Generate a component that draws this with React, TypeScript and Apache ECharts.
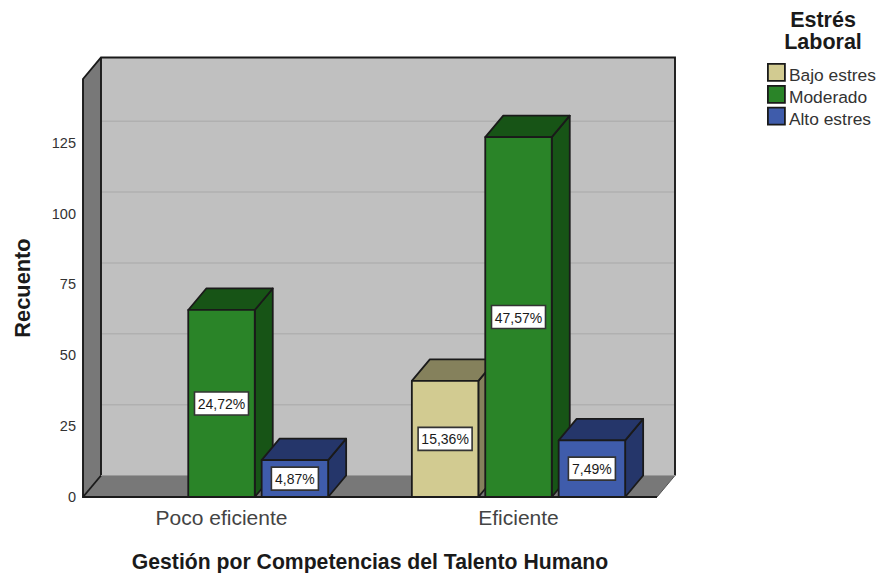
import React, { useEffect, useRef } from "react";
import * as echarts from "echarts";

// Counts per stress level and competence-management category
const categories = ["Poco eficiente", "Eficiente"];
const stressLevels = ["Bajo estres", "Moderado", "Alto estres"];
const bajoCounts = [null, 41];
const moderadoCounts = [66, 127];
const altoCounts = [13, 20];
const bajoShares = ["", "15,36%"];
const moderadoShares = ["24,72%", "47,57%"];
const altoShares = ["4,87%", "7,49%"];
const gridValues = [25, 50, 75, 100, 125];

const AXIS_MAX = 147.5;
const DEPTH_X = 18;
const DEPTH_Y = 21.5;
const BAR_W = 66.5;
const BAR_STEP = 73.4;
const WALL_INSET = 10;
const EDGE = "#1a1a1a";
const FONT = "'Liberation Sans', Arial, sans-serif";

const palette = [
  { front: "#D2CB91", top: "#85815C", side: "#85815C" },
  { front: "#2A8428", top: "#175416", side: "#175416" },
  { front: "#3F5CAB", top: "#25366A", side: "#25366A" },
];

// Back wall, left wall, floor and gridlines of the 3D frame
function renderFrame(_: any, api: any) {
  const x0 = api.coord([0, 0])[0] - api.size([1, 0])[0] / 2 + WALL_INSET;
  const x1 = api.coord([1, 0])[0] + api.size([1, 0])[0] / 2 - WALL_INSET;
  const yBase = api.coord([0, 0])[1];
  const yTop = api.coord([0, AXIS_MAX])[1];
  const wall = { fill: "#C0C0C0" };
  const shade = { fill: "#787878" };
  const children: any[] = [
    {
      type: "polygon",
      shape: {
        points: [
          [x0, yTop],
          [x0 + DEPTH_X, yTop - DEPTH_Y],
          [x0 + DEPTH_X, yBase - DEPTH_Y],
          [x0, yBase],
        ],
      },
      style: shade,
    },
    {
      type: "polygon",
      shape: {
        points: [
          [x0, yBase],
          [x0 + DEPTH_X, yBase - DEPTH_Y],
          [x1 + DEPTH_X, yBase - DEPTH_Y],
          [x1, yBase],
        ],
      },
      style: shade,
    },
    {
      type: "rect",
      shape: { x: x0 + DEPTH_X, y: yTop - DEPTH_Y, width: x1 - x0, height: yBase - yTop },
      style: wall,
    },
  ];
  gridValues.forEach((v) => {
    const y = api.coord([0, v])[1] - DEPTH_Y;
    children.push({
      type: "line",
      shape: { x1: x0 + DEPTH_X, y1: y, x2: x1 + DEPTH_X, y2: y },
      style: { stroke: "#B0B0B0", lineWidth: 1.5 },
    });
  });
  const stroke = { stroke: EDGE, lineWidth: 1.9, fill: "none" };
  children.push(
    {
      type: "polyline",
      shape: {
        points: [
          [x1, yBase],
          [x0, yBase],
          [x0, yTop],
          [x0 + DEPTH_X, yTop - DEPTH_Y],
          [x1 + DEPTH_X, yTop - DEPTH_Y],
          [x1 + DEPTH_X, yBase - DEPTH_Y],
        ],
      },
      style: stroke,
    },
    {
      type: "line",
      shape: { x1: x0 + DEPTH_X, y1: yTop - DEPTH_Y, x2: x0 + DEPTH_X, y2: yBase - DEPTH_Y },
      style: stroke,
    },
    {
      type: "line",
      shape: { x1: x0, y1: yBase, x2: x0 + DEPTH_X, y2: yBase - DEPTH_Y },
      style: stroke,
    },
    {
      type: "line",
      shape: { x1: x1 + DEPTH_X, y1: yBase - DEPTH_Y, x2: x1, y2: yBase },
      style: { stroke: "#555555", lineWidth: 1 },
    },
    {
      type: "line",
      shape: { x1: x0 + DEPTH_X, y1: yBase - DEPTH_Y, x2: x1 + DEPTH_X, y2: yBase - DEPTH_Y },
      style: { stroke: "#999999", lineWidth: 1 },
    }
  );
  return { type: "group", children };
}

// One extruded bar with its boxed percentage label
function makeBarRenderer(seriesIndex: number, shares: string[]) {
  const colours = palette[seriesIndex];
  return (_: any, api: any) => {
    const cat = api.value(0);
    const value = api.value(1);
    const centre = api.coord([cat, 0])[0] + (seriesIndex - 1) * BAR_STEP;
    const left = centre - BAR_W / 2;
    const right = centre + BAR_W / 2;
    const yBase = api.coord([cat, 0])[1];
    const yTop = api.coord([cat, value])[1];
    const edge = { stroke: EDGE, lineWidth: 1.8, lineJoin: "round" };
    const label = shares[cat];
    const boxW = label.length > 5 ? 54 : 47;
    const yMid = (yTop + yBase) / 2;
    return {
      type: "group",
      children: [
        {
          type: "polygon",
          shape: {
            points: [
              [right, yTop],
              [right + DEPTH_X, yTop - DEPTH_Y],
              [right + DEPTH_X, yBase - DEPTH_Y],
              [right, yBase],
            ],
          },
          style: { ...edge, fill: colours.side },
        },
        {
          type: "polygon",
          shape: {
            points: [
              [left, yTop],
              [left + DEPTH_X, yTop - DEPTH_Y],
              [right + DEPTH_X, yTop - DEPTH_Y],
              [right, yTop],
            ],
          },
          style: { ...edge, fill: colours.top },
        },
        {
          type: "rect",
          shape: { x: left, y: yTop, width: BAR_W, height: yBase - yTop },
          style: { ...edge, fill: colours.front },
        },
        {
          type: "rect",
          shape: { x: centre - boxW / 2, y: yMid - 11.5, width: boxW, height: 23 },
          style: { fill: "#FFFFFF", stroke: "#333333", lineWidth: 1.6 },
        },
        {
          type: "text",
          style: {
            text: label,
            x: centre,
            y: yMid + 0.5,
            align: "center",
            verticalAlign: "middle",
            fill: "#1a1a1a",
            font: `14px ${FONT}`,
          },
        },
      ],
    };
  };
}

function toPoints(counts: (number | null)[]) {
  return counts.flatMap((v, i) => (v === null ? [] : [[i, v]]));
}

export default function App() {
  const ref = useRef<HTMLDivElement>(null);

  useEffect(() => {
    const chart = echarts.init(ref.current!, undefined, { renderer: "svg" });
    const counts = [bajoCounts, moderadoCounts, altoCounts];
    const shares = [bajoShares, moderadoShares, altoShares];
    chart.setOption({
      animation: false,
      backgroundColor: "#FFFFFF",
      title: {
        text: "Estrés\nLaboral",
        left: 818,
        top: 4,
        textAlign: "center",
        textStyle: { fontFamily: FONT, fontSize: 21.5, fontWeight: "bold", color: "#1a1a1a", lineHeight: 22 },
      },
      legend: {
        orient: "vertical",
        left: 762,
        top: 58,
        itemWidth: 17,
        itemHeight: 17,
        itemGap: 1.5,
        icon: "rect",
        data: stressLevels,
        itemStyle: { borderColor: EDGE, borderWidth: 1.8 },
        formatter: "{t|{name}}",
        textStyle: {
          padding: [0, 0, 0, -1],
          rich: {
            t: { fontFamily: FONT, fontSize: 17.4, color: "#333333", padding: [5, 0, 0, 0] },
          },
        },
      },
      grid: { left: 73, top: 79, width: 594, height: 418, outerBoundsMode: "none" },
      xAxis: {
        type: "category",
        data: categories,
        axisLine: { show: false },
        axisTick: { show: false },
        axisLabel: { fontFamily: FONT, fontSize: 21, color: "#444444", margin: 10 },
        name: "Gestión por Competencias del Talento Humano",
        nameLocation: "middle",
        nameGap: 54,
        nameTextStyle: { fontFamily: FONT, fontSize: 21.2, fontWeight: "bold", color: "#1a1a1a" },
      },
      yAxis: {
        type: "value",
        min: 0,
        max: AXIS_MAX,
        interval: 25,
        axisLine: { show: false },
        axisTick: { show: false },
        splitLine: { show: false },
        axisLabel: {
          fontFamily: FONT,
          fontSize: 14.5,
          color: "#333333",
          margin: -3,
          showMaxLabel: false,
          padding: [3, 0, 0, 0],
        },
        name: "Recuento",
        nameLocation: "middle",
        nameGap: 40,
        nameTextStyle: { fontFamily: FONT, fontSize: 21.8, fontWeight: "bold", color: "#1a1a1a" },
      },
      series: [
        {
          type: "custom",
          name: "frame",
          silent: true,
          clip: false,
          data: [[0, 0]],
          renderItem: renderFrame,
          z: 1,
        },
        ...stressLevels.map((name, i) => ({
          type: "custom",
          name,
          clip: false,
          silent: true,
          data: toPoints(counts[i]),
          itemStyle: { color: palette[i].front },
          renderItem: makeBarRenderer(i, shares[i]),
          z: 2 + i,
        })),
      ],
    });
    return () => chart.dispose();
  }, []);

  return (
    <div
      ref={ref}
      style={{ position: "absolute", left: 0, top: 0, width: 878, height: 573 }}
    />
  );
}
